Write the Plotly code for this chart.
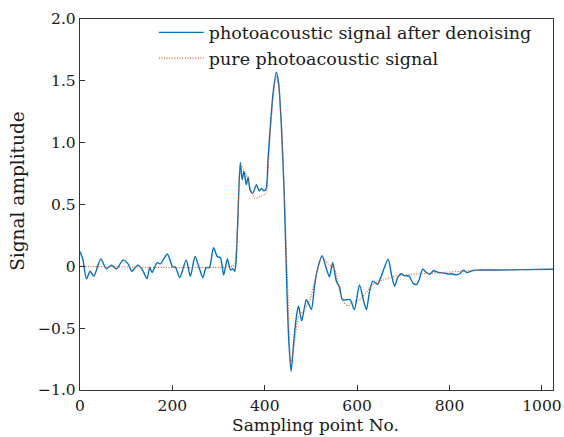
import plotly.graph_objects as go

# Denoised photoacoustic signal (sample index, amplitude)
denoised_x = [0, 6, 14, 22, 30, 45, 57, 68, 79, 93, 104, 112, 125, 134, 145, 151, 156,
              167, 174, 189, 200, 207, 216, 230, 239, 249, 257, 266, 273, 280, 289, 297,
              304, 311, 319, 326, 331, 335, 338, 341, 347, 351, 355, 360, 364, 368, 374,
              382, 388, 393, 398, 403, 407, 412, 418, 425, 430, 436, 442, 448, 452, 457,
              463, 468, 473, 480, 490, 496, 501, 508, 515, 524, 532, 540, 547, 555, 562,
              568, 577, 585, 594, 605, 614, 620, 627, 634, 644, 652, 659, 667, 674, 681,
              688, 695, 703, 712, 722, 729, 735, 742, 750, 757, 765, 777, 789, 797, 804,
              814, 822, 830, 837, 845, 854, 900, 960, 1024]
denoised_y = [0.12, 0.06, -0.10, -0.04, -0.08, 0.06, -0.02, 0.01, -0.02, 0.05, 0.02, -0.04,
              0.01, -0.02, -0.10, -0.01, -0.05, 0.03, 0.02, 0.10, 0.0, -0.01, -0.09, 0.05,
              -0.08, 0.08, 0.0, -0.09, -0.01, -0.01, 0.15, 0.08, 0.07, -0.07, 0.06, -0.03,
              -0.02, -0.04, 0.05, 0.31, 0.84, 0.70, 0.77, 0.66, 0.72, 0.62, 0.59, 0.66, 0.61,
              0.63, 0.61, 0.63, 0.86, 1.13, 1.40, 1.57, 1.48, 1.13, 0.59, -0.20, -0.60,
              -0.85, -0.60, -0.42, -0.32, -0.44, -0.27, -0.31, -0.35, -0.15, -0.01, 0.085,
              0.0, -0.085, 0.03, -0.12, -0.17, -0.27, -0.27, -0.27, -0.35, -0.15, -0.28,
              -0.35, -0.20, -0.12, -0.145, -0.08, -0.01, 0.058, -0.06, -0.16, -0.09, -0.06,
              -0.077, -0.077, -0.14, -0.145, -0.10, -0.023, -0.05, -0.065, -0.036, -0.05,
              -0.055, -0.063, -0.06, -0.069, -0.06, -0.031, -0.05, -0.042, -0.031, -0.03,
              -0.027, -0.023]

# Pure (noise-free) photoacoustic signal
pure_x = [0, 330, 335, 342, 347, 357, 368, 378, 393, 403, 407, 414, 421, 425, 430, 437, 443,
          450, 456, 465, 472, 483, 497, 512, 524, 537, 551, 562, 569, 580, 591, 605, 620,
          634, 656, 685, 714, 735, 786, 843, 1024]
pure_y = [0.0, 0.0, 0.02, 0.37, 0.82, 0.77, 0.65, 0.55, 0.57, 0.59, 0.77, 1.18, 1.48, 1.53,
          1.46, 1.10, 0.53, -0.20, -0.78, -0.60, -0.42, -0.36, -0.28, -0.06, 0.08, 0.02,
          -0.02, -0.20, -0.28, -0.32, -0.29, -0.27, -0.21, -0.145, -0.11, -0.077, -0.065,
          -0.06, -0.05, -0.036, -0.023]

x_ticks = [0, 200, 400, 600, 800, 1000]
y_ticks = [-1.0, -0.5, 0, 0.5, 1.0, 1.5, 2.0]
y_tick_text = ["\u22121.0", "\u22120.5", "0", "0.5", "1.0", "1.5", "2.0"]

font_family = "DejaVu Serif"
text_color = "#1a1a1a"
axis_color = "#333333"

fig = go.Figure()
fig.add_trace(go.Scatter(
    x=denoised_x, y=denoised_y, mode="lines",
    name="photoacoustic signal after denoising",
    line=dict(color="#0072BD", width=1.4, shape="spline", smoothing=0.7),
))
fig.add_trace(go.Scatter(
    x=pure_x, y=pure_y, mode="lines",
    name="pure photoacoustic signal",
    line=dict(color="#D95319", width=1.1, dash="1px,1.6px", shape="spline", smoothing=0.5),
))

fig.update_layout(
    width=564, height=437,
    margin=dict(l=80, r=10.5, t=19, b=46.5, autoexpand=False),
    paper_bgcolor="white", plot_bgcolor="white",
    font=dict(family=font_family, size=15.5, color=text_color),
    showlegend=True,
    legend=dict(
        x=0.156, y=1.012, xanchor="left", yanchor="top",
        bgcolor="rgba(0,0,0,0)", borderwidth=0,
        font=dict(family=font_family, size=17.5, color=text_color),
        tracegroupgap=0, itemwidth=45,
    ),
    annotations=[
        dict(text="Signal amplitude", textangle=-90, showarrow=False,
             xref="paper", yref="paper", x=-0.131, y=0.537,
             xanchor="center", yanchor="middle",
             font=dict(family=font_family, size=18.5, color=text_color)),
        dict(text="Sampling point No.", showarrow=False,
             xref="paper", yref="paper", x=0.497, y=-0.093,
             xanchor="center", yanchor="middle",
             font=dict(family=font_family, size=17, color=text_color)),
    ],
)
fig.update_xaxes(
    range=[0, 1024], tickvals=x_ticks, ticktext=[str(v) for v in x_ticks],
    showgrid=False, zeroline=False, automargin=False,
    showline=True, linecolor=axis_color, linewidth=1.4, mirror=True,
    ticks="inside", ticklen=5, tickcolor=axis_color, ticklabelstandoff=1,
)
fig.update_yaxes(
    range=[-1.0, 2.0], tickvals=y_ticks, ticktext=y_tick_text,
    showgrid=False, zeroline=False, automargin=False,
    showline=True, linecolor=axis_color, linewidth=1.4, mirror=True,
    ticks="inside", ticklen=5, tickcolor=axis_color,
)

fig.write_html("out.html")
